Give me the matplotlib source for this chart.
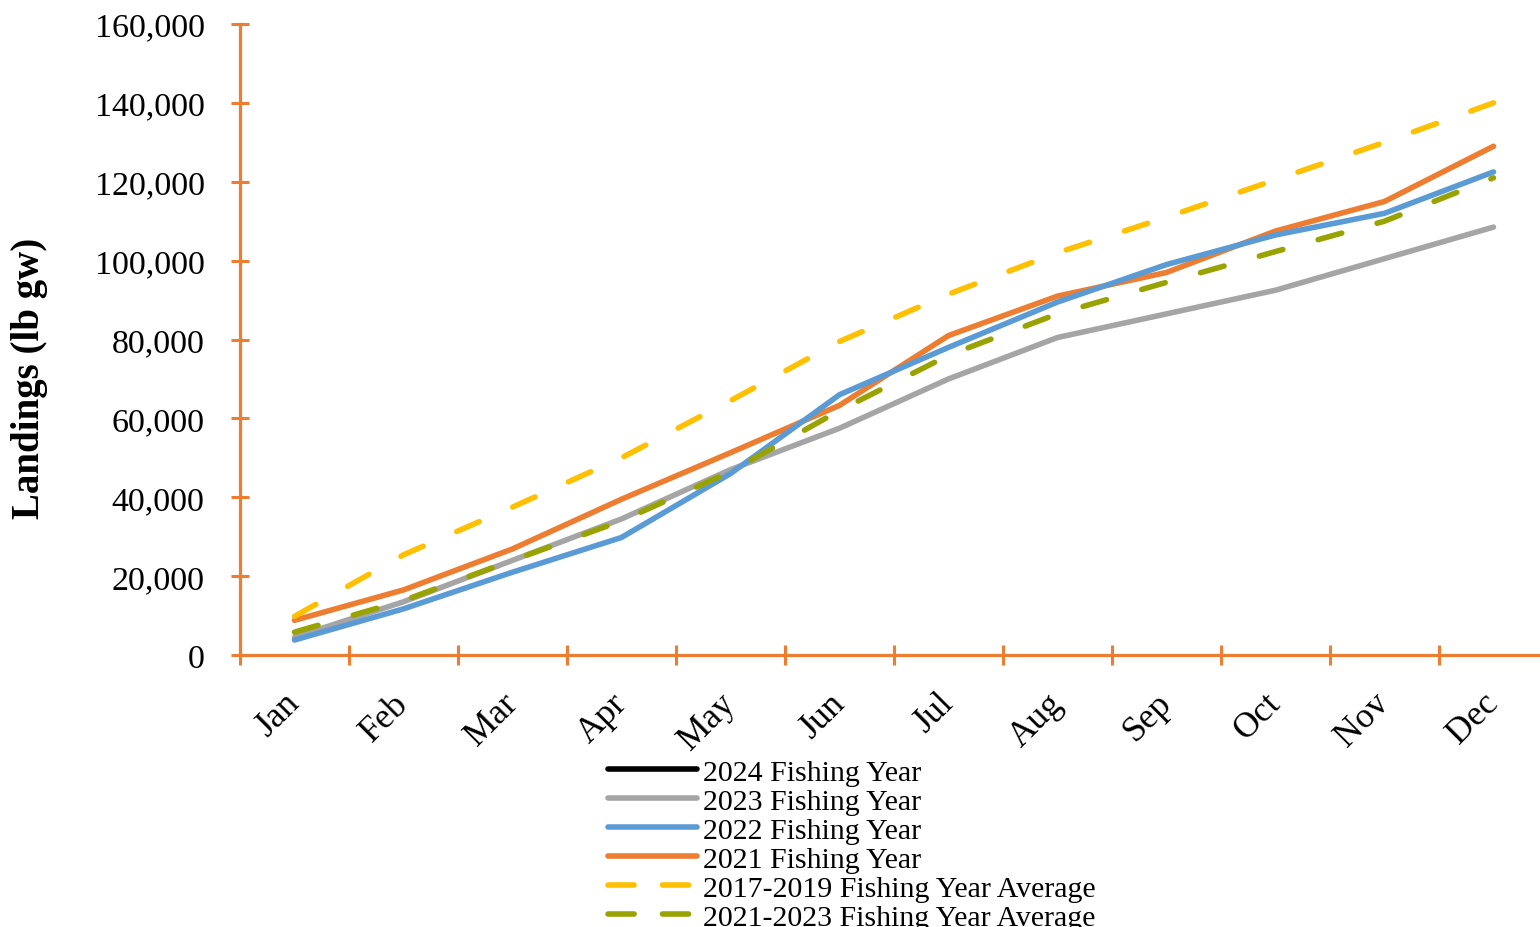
import numpy as np
import matplotlib
matplotlib.use("Agg")
import matplotlib.pyplot as plt
from matplotlib.lines import Line2D
from matplotlib.ticker import FuncFormatter, FixedLocator

plt.rcParams['font.family'] = ['Liberation Serif', 'DejaVu Serif']

months = ['Jan', 'Feb', 'Mar', 'Apr', 'May', 'Jun', 'Jul', 'Aug', 'Sep', 'Oct', 'Nov', 'Dec']
fy2024 = [np.nan] * 12  # no landings plotted yet for 2024
fy2023 = [4500, 13500, 24000, 34500, 47000, 57500, 70000, 80500, 86500, 92500, 100500, 108500]
fy2022 = [3800, 11700, 21000, 29800, 46000, 66000, 78000, 89500, 99000, 106500, 112000, 122500]
fy2021 = [8800, 16500, 26900, 39500, 51300, 63300, 81000, 91000, 97000, 107500, 115000, 129000]
avg1719 = [9800, 25400, 37500, 50000, 64500, 79500, 91500, 102000, 111000, 120500, 130000, 140000]
avg2123 = [5800, 13800, 24000, 34000, 46500, 62000, 76000, 86500, 94500, 102300, 110000, 121000]

labels = ['2024 Fishing Year', '2023 Fishing Year', '2022 Fishing Year', '2021 Fishing Year',
          '2017-2019 Fishing Year Average', '2021-2023 Fishing Year Average']

AX_COLOR = '#ED7D31'
W, H = 1540, 928
fig = plt.figure(figsize=(W / 100, H / 100), dpi=100)
ax = fig.add_axes([240 / W, (H - 656) / H, 1308 / W, 631 / H])

x = np.arange(len(months))
lw = 4.0
dash = (4.4, 6.6)

h24, = ax.plot(x, fy2024, color='black', lw=lw, solid_capstyle='round', zorder=7)
h21, = ax.plot(x, fy2021, color='#ED7D31', lw=lw, solid_capstyle='round', zorder=3)
h22, = ax.plot(x, fy2022, color='#5B9BD5', lw=lw, solid_capstyle='round', zorder=4)
h23, = ax.plot(x, fy2023, color='#A5A5A5', lw=lw, solid_capstyle='round', zorder=2)
h17, = ax.plot(x, avg1719, color='#FFC000', lw=lw, dashes=dash, dash_capstyle='round', zorder=5)
hav, = ax.plot(x, avg2123, color='#99A300', lw=lw, dashes=dash, dash_capstyle='round', zorder=6)

ax.set_xlim(-0.5, 11.5)
ax.set_ylim(0, 160000)

for s in ['top', 'right']:
    ax.spines[s].set_visible(False)
for s in ['left', 'bottom']:
    ax.spines[s].set_color(AX_COLOR)
    ax.spines[s].set_linewidth(2.3)

ax.yaxis.set_major_locator(FixedLocator(np.arange(0, 160001, 20000)))
ax.yaxis.set_major_formatter(FuncFormatter(lambda v, p: f'{int(v):,}'))
ax.tick_params(axis='y', which='major', direction='inout', length=13, width=2.2,
               color=AX_COLOR, labelsize=24.5, pad=19)

ax.xaxis.set_major_locator(FixedLocator(np.arange(-0.5, 12, 1)))
ax.xaxis.set_major_formatter(FuncFormatter(lambda v, p: ''))
ax.set_xticks(x, months, minor=True)
ax.tick_params(axis='x', which='major', direction='inout', length=15, width=2.2, color=AX_COLOR)
ax.tick_params(axis='x', which='minor', length=0, labelsize=25.5, pad=31)
for t in ax.get_xticklabels(minor=True):
    t.set_rotation(45)
    t.set_ha('right')
    t.set_va('center')
    t.set_rotation_mode('anchor')

fig.text(30 / W, 1 - 378 / H, 'Landings (lb gw)', rotation=90, ha='center', va='center',
         fontsize=28, fontweight='bold')

leg_dash = (4.7, 5.1)
p17 = Line2D([], [], color='#FFC000', lw=lw, dashes=leg_dash, dash_capstyle='round')
pav = Line2D([], [], color='#99A300', lw=lw, dashes=leg_dash, dash_capstyle='round')

leg = fig.legend([h24, h23, h22, h21, p17, pav], labels, loc='upper left',
                 bbox_to_anchor=(608 / W, 1 - 760 / H), frameon=False, fontsize=21.5,
                 handlelength=2.98, handletextpad=0.2, labelspacing=0.068,
                 borderpad=0, borderaxespad=0)

fig.savefig('out.png', dpi=100)
